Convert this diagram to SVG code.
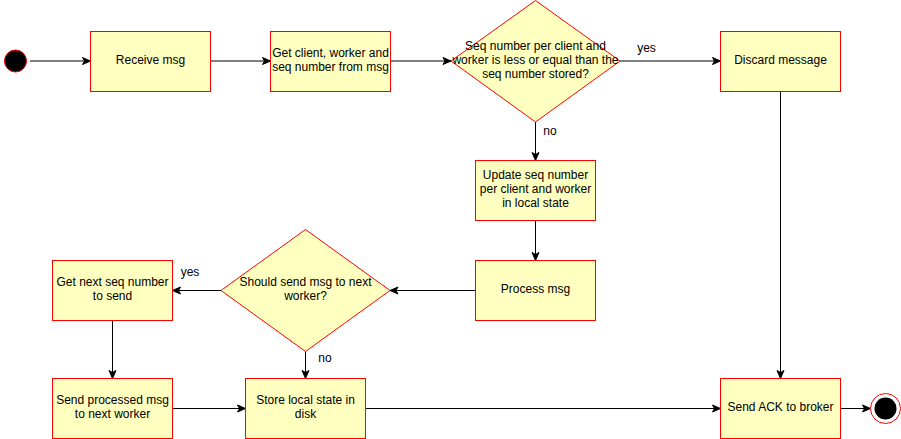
<svg xmlns="http://www.w3.org/2000/svg" width="901" height="439" viewBox="0 0 901 439">
<style>
.box{fill:#ffffc0;stroke:#ff0000;stroke-width:1}
.t{font-family:"Liberation Sans",Arial,sans-serif;font-size:12px;fill:#000;text-anchor:middle}
.lbl{font-family:"Liberation Sans",Arial,sans-serif;font-size:12px;fill:#000;text-anchor:middle}
.e{fill:none;stroke:#000;stroke-width:1;marker-end:url(#arr)}
.ln{fill:none;stroke:#000;stroke-width:1}
</style>
<defs>
<marker id="arr" viewBox="0 0 10 10" refX="9" refY="5" markerWidth="10" markerHeight="10" markerUnits="userSpaceOnUse" orient="auto">
<path d="M1,1.5 L9,5 L1,8.5 L3,5 Z" fill="#000" stroke="#000" stroke-width="1"/>
</marker>
</defs>
<rect width="901" height="439" fill="#fff"/>
<g id="connectors">
<path class="e" d="M30,61 L90.5,61"/>
<path class="e" d="M210.5,61 L270.5,61"/>
<path class="e" d="M390.5,61 L451,61"/>
<path class="e" d="M620,61 L720.5,61"/>
<path class="e" d="M535.5,122 L535.5,160.5"/>
<path class="e" d="M780.5,91.5 L780.5,378.5"/>
<path class="e" d="M535.5,220.5 L535.5,260.5"/>
<path class="e" d="M475.5,290.5 L390,290.5"/>
<path class="e" d="M221,290.5 L172.5,290.5"/>
<path class="e" d="M305.5,351.5 L305.5,378.5"/>
<path class="e" d="M112.5,320.5 L112.5,378.5"/>
<path class="e" d="M172.5,408.5 L245.5,408.5"/>
<path class="e" d="M365.5,408.5 L720.5,408.5"/>
<path class="e" d="M840.5,408.5 L870.5,408.5"/>
<text class="lbl" x="646.5" y="52">yes</text>
<text class="lbl" x="550" y="135">no</text>
<text class="lbl" x="190" y="276">yes</text>
<text class="lbl" x="325" y="362">no</text>
</g>
<g id="start"><circle cx="15.5" cy="61" r="11" fill="#000" stroke="#ff0000" stroke-width="1"/></g>
<g id="receive"><rect class="box" x="90.5" y="31.5" width="120" height="60"/><text class="t" x="150.5" y="64">Receive msg</text></g>
<g id="getclient"><rect class="box" x="270.5" y="31.5" width="120" height="60"/><text class="t" x="330.5" y="57">Get client, worker and</text><text class="t" x="330.5" y="71">seq number from msg</text></g>
<g id="decision1"><polygon class="box" points="535.5,0.5 620,61 535.5,122 451,61"/><text class="t" x="535.5" y="49.5">Seq number per client and</text><text class="t" x="535.5" y="64">worker is less or equal than the</text><text class="t" x="535.5" y="78">seq number stored?</text></g>
<g id="discard"><rect class="box" x="720.5" y="31.5" width="120" height="60"/><text class="t" x="780.5" y="64">Discard message</text></g>
<g id="update"><rect class="box" x="475.5" y="160.5" width="120" height="60"/><text class="t" x="535.5" y="179">Update seq number</text><text class="t" x="535.5" y="193">per client and worker</text><text class="t" x="535.5" y="207">in local state</text></g>
<g id="process"><rect class="box" x="475.5" y="260.5" width="120" height="60"/><text class="t" x="535.5" y="293">Process msg</text></g>
<g id="decision2"><polygon class="box" points="305.5,229.5 390,290.5 305.5,351.5 221,290.5"/><text class="t" x="305.5" y="286">Should send msg to next</text><text class="t" x="305.5" y="300">worker?</text></g>
<g id="getnext"><rect class="box" x="52.5" y="260.5" width="120" height="60"/><text class="t" x="112.5" y="286">Get next seq number</text><text class="t" x="112.5" y="300">to send</text></g>
<g id="sendprocessed"><rect class="box" x="52.5" y="378.5" width="120" height="60"/><text class="t" x="112.5" y="404">Send processed msg</text><text class="t" x="112.5" y="418">to next worker</text></g>
<g id="store"><rect class="box" x="245.5" y="378.5" width="120" height="60"/><text class="t" x="305.5" y="404">Store local state in</text><text class="t" x="305.5" y="418">disk</text></g>
<g id="ack"><rect class="box" x="720.5" y="378.5" width="120" height="60"/><text class="t" x="780.5" y="411">Send ACK to broker</text></g>
<g id="end"><circle cx="885.5" cy="408.5" r="15" fill="#fff" stroke="#ff0000" stroke-width="1"/><circle cx="885.5" cy="408.5" r="11" fill="#000"/></g>
</svg>
